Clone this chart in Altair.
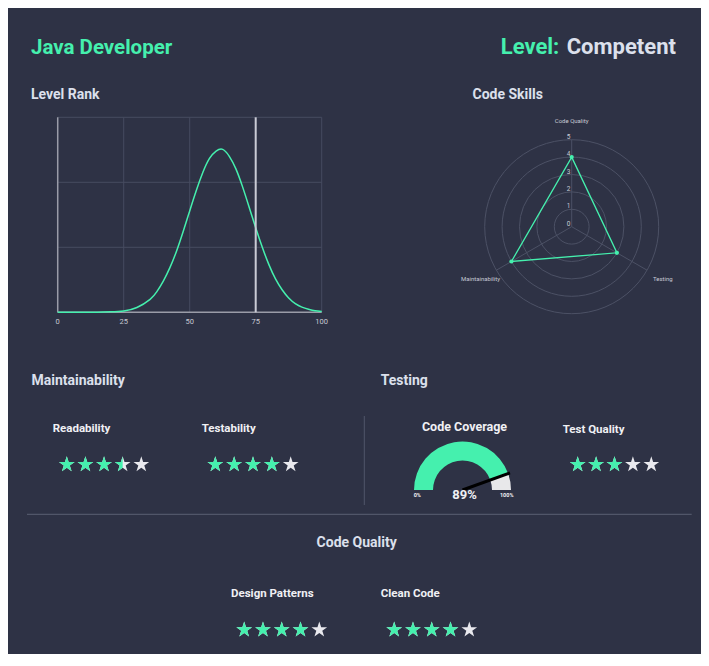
import math
import altair as alt
import pandas as pd

# ---------------- data ----------------
title_text = "Java Developer"
level_label = "Level:"
level_value = "Competent"

rank_x = [0, 5, 10, 15, 20, 25, 30, 35, 37.5, 40, 42.5, 45, 47.5, 50, 52.5, 55, 57.5, 60, 62.5,
          65, 67.5, 70, 72.5, 75, 77.5, 80, 82.5, 85, 87.5, 90, 92.5, 95, 97.5, 100]
rank_y = [0, 0, 0, 0.00001, 0.0001, 0.0003, 0.0011, 0.003, 0.0047, 0.0072, 0.0103, 0.0141, 0.0186,
          0.0234, 0.0281, 0.0323, 0.0355, 0.0372, 0.0376, 0.036, 0.0331, 0.029, 0.0243, 0.0195,
          0.015, 0.011, 0.0077, 0.0052, 0.0033, 0.002, 0.0012, 0.0007, 0.00035, 0.0002]
rank_marker = 75
rank_ticks = [0, 25, 50, 75, 100]
rank_grid_y = [0.015, 0.03, 0.045]
rank_xmax = 100
rank_ymax = 0.045

skill_names = ["Code Quality", "Testing", "Maintainability"]
skill_scores = [4, 3, 4]
skill_angles = [90, -30, 210]
skill_levels = [0, 1, 2, 3, 4, 5]

coverage_value = 89
coverage_labels = ["0%", "100%"]

rating_names = ["Readability", "Testability", "Test Quality", "Design Patterns", "Clean Code"]
rating_values = [3.5, 4, 3, 4, 4]
star_index = [1, 2, 3, 4, 5]

# ---------------- style ----------------
BG = "#2E3245"
GREEN = "#45F0AE"
LIGHT = "#DCE0EC"
WHITE = "#F0F0F4"
STAR_OFF = "#E9E9EE"
GRID = "#464B5F"
RING = "#4C5165"
AXIS = "#9A9CA8"
FONT = "Roboto"
OFF = 8


def P(v):
    return v - OFF


STAR = ("M0,-1 L0.2245,-0.309 L0.951,-0.309 L0.3633,0.118 L0.5878,0.809 L0,0.382 "
        "L-0.5878,0.809 L-0.3633,0.118 L-0.951,-0.309 L-0.2245,-0.309 Z")
HALF = "M0,-1 L-0.2245,-0.309 L-0.951,-0.309 L-0.3633,0.118 L-0.5878,0.809 L0,0.382 Z"

layers = []


def text(txt, x, y, size, color=LIGHT, align="left", baseline="alphabetic", weight="bold"):
    return alt.Chart(pd.DataFrame({"t": [txt]})).mark_text(
        align=align, baseline=baseline, font=FONT, fontSize=size, fontWeight=weight, color=color
    ).encode(x=alt.value(P(x)), y=alt.value(P(y)), text="t:N")


def hrule(x1, x2, y, color, w=1):
    return alt.Chart(pd.DataFrame({"a": [0]})).mark_rule(color=color, strokeWidth=w).encode(
        x=alt.value(P(x1)), x2=alt.value(P(x2)), y=alt.value(P(y)))


def vrule(x, y1, y2, color, w=1):
    return alt.Chart(pd.DataFrame({"a": [0]})).mark_rule(color=color, strokeWidth=w).encode(
        x=alt.value(P(x)), y=alt.value(P(y1)), y2=alt.value(P(y2)))


# ---------------- titles ----------------
layers.append(text(title_text, 31, 54, 20.5, GREEN))
layers.append(text(level_label, 559.3, 53.5, 22, GREEN, align="right"))
layers.append(text(level_value, 566.7, 53.5, 22, LIGHT))
layers.append(text("Level Rank", 31, 98.7, 14))
layers.append(text("Code Skills", 472.5, 99, 14))
layers.append(text("Maintainability", 31.5, 385, 14))
layers.append(text("Testing", 380.7, 385, 14))
layers.append(text("Code Quality", 356.7, 546.7, 14, align="center"))

# ---------------- level rank (line) ----------------
rxs = alt.Scale(domain=[0, rank_xmax], range=[P(57.7), P(321.7)])
rys = alt.Scale(domain=[0, rank_ymax], range=[P(312.3), P(117.3)])
tick_df = pd.DataFrame({"t": rank_ticks})
grid_df = pd.DataFrame({"g": rank_grid_y})
rank_df = pd.DataFrame({"x": rank_x, "y": rank_y})
frame_calc = dict(lo="0", ymax=str(rank_ymax), xmax=str(rank_xmax))

layers.append(alt.Chart(tick_df).transform_calculate(**frame_calc).mark_rule(color=GRID, strokeWidth=1).encode(
    x=alt.X("t:Q", scale=rxs, axis=None),
    y=alt.Y("lo:Q", scale=rys, axis=None), y2="ymax:Q"))
layers.append(alt.Chart(grid_df).transform_calculate(**frame_calc).mark_rule(color=GRID, strokeWidth=1).encode(
    y=alt.Y("g:Q", scale=rys, axis=None),
    x=alt.X("lo:Q", scale=rxs, axis=None), x2="xmax:Q"))
frame_df = pd.DataFrame({"a": [0]})
layers.append(alt.Chart(frame_df).transform_calculate(**frame_calc).mark_rule(color=AXIS, strokeWidth=1.5).encode(
    x=alt.X("lo:Q", scale=rxs, axis=None),
    y=alt.Y("lo:Q", scale=rys, axis=None), y2="ymax:Q"))
layers.append(alt.Chart(frame_df).transform_calculate(**frame_calc).mark_rule(color=AXIS, strokeWidth=1.5).encode(
    y=alt.Y("lo:Q", scale=rys, axis=None),
    x=alt.X("lo:Q", scale=rxs, axis=None), x2="xmax:Q"))
layers.append(alt.Chart(rank_df).mark_line(color=GREEN, strokeWidth=1.5, interpolate="natural").encode(
    x=alt.X("x:Q", scale=rxs, axis=None), y=alt.Y("y:Q", scale=rys, axis=None)))
layers.append(alt.Chart(pd.DataFrame({"m": [rank_marker]})).transform_calculate(**frame_calc).mark_rule(
    color="#C9CBD5", strokeWidth=2).encode(
    x=alt.X("m:Q", scale=rxs, axis=None),
    y=alt.Y("lo:Q", scale=rys, axis=None), y2="ymax:Q"))
layers.append(alt.Chart(tick_df).mark_text(font=FONT, fontSize=7.5, color="#C6C8D2", baseline="alphabetic").encode(
    x=alt.X("t:Q", scale=rxs, axis=None), y=alt.value(P(323.7)), text="t:Q"))

# ---------------- code skills (radar) ----------------
CX, CY, R = 571.7, 226.7, 87
rdx = alt.Scale(domain=[-5, 5], range=[P(CX - R), P(CX + R)])
rdy = alt.Scale(domain=[-5, 5], range=[P(CY + R), P(CY - R)])
lvl_df = pd.DataFrame({"lv": skill_levels})
skill_df = pd.DataFrame({"name": skill_names, "score": skill_scores, "ang": skill_angles,
                         "i": list(range(len(skill_names)))})

layers.append(alt.Chart(lvl_df).transform_filter("datum.lv > 0").transform_calculate(cx="0").mark_point(
    shape="circle", filled=False, color=RING, strokeWidth=1, opacity=1).encode(
    x=alt.X("cx:Q", scale=rdx, axis=None), y=alt.Y("cx:Q", scale=rdy, axis=None),
    size=alt.Size("lv:Q", scale=alt.Scale(type="pow", exponent=2, domain=[0, 5], range=[0, (2 * R) ** 2]),
                  legend=None)))
layers.append(alt.Chart(skill_df).transform_calculate(
    cx="0", ex="5*cos(datum.ang*PI/180)", ey="5*sin(datum.ang*PI/180)").mark_rule(color=RING, strokeWidth=1).encode(
    x=alt.X("cx:Q", scale=rdx, axis=None), y=alt.Y("cx:Q", scale=rdy, axis=None),
    x2="ex:Q", y2="ey:Q"))
layers.append(alt.Chart(lvl_df).transform_calculate(cx="0").mark_text(
    font=FONT, fontSize=6.5, color="#C8CAD4", dx=-3, dy=-3).encode(
    x=alt.X("cx:Q", scale=rdx, axis=None), y=alt.Y("lv:Q", scale=rdy, axis=None), text="lv:Q"))
poly = alt.Chart(skill_df).transform_calculate(
    px="datum.score*cos(datum.ang*PI/180)", py="datum.score*sin(datum.ang*PI/180)")
layers.append(poly.mark_line(color=GREEN, strokeWidth=1.3, interpolate="linear-closed").encode(
    x=alt.X("px:Q", scale=rdx, axis=None), y=alt.Y("py:Q", scale=rdy, axis=None), order="i:Q"))
layers.append(poly.mark_point(color=GREEN, filled=True, opacity=1, size=18).encode(
    x=alt.X("px:Q", scale=rdx, axis=None), y=alt.Y("py:Q", scale=rdy, axis=None)))
layers.append(alt.Chart(skill_df).transform_calculate(
    lx="6.05*cos(datum.ang*PI/180)", ly="6.05*sin(datum.ang*PI/180)").mark_text(
    font=FONT, fontSize=6, color="#C8CAD4", baseline="middle").encode(
    x=alt.X("lx:Q", scale=rdx, axis=None), y=alt.Y("ly:Q", scale=rdy, axis=None), text="name:N"))

# ---------------- code coverage gauge ----------------
GX, GY, GR, Gr = 462.5, 490, 48.5, 29.5
seg_df = pd.DataFrame({"start": [0, coverage_value], "end": [coverage_value, 100], "part": ["done", "rest"]})
layers.append(alt.Chart(seg_df).mark_arc(radius=GR, radius2=Gr).encode(
    theta=alt.Theta("start:Q", scale=alt.Scale(domain=[0, 100], range=[-math.pi / 2, math.pi / 2])),
    theta2="end:Q",
    color=alt.Color("part:N", scale=alt.Scale(domain=["done", "rest"], range=[GREEN, "#E8E8EA"]), legend=None),
    x=alt.value(P(GX)), y=alt.value(P(GY))))
ndx = alt.Scale(domain=[-1, 1], range=[P(GX - GR), P(GX + GR)])
ndy = alt.Scale(domain=[-1, 1], range=[P(GY + GR), P(GY - GR)])
layers.append(alt.Chart(pd.DataFrame({"v": [coverage_value]})).transform_calculate(
    ang="PI*(1-datum.v/100)", cx="0", tx="1.04*cos(datum.ang)", ty="1.04*sin(datum.ang)").mark_rule(
    color="black", strokeWidth=3).encode(
    x=alt.X("cx:Q", scale=ndx, axis=None), y=alt.Y("cx:Q", scale=ndy, axis=None), x2="tx:Q", y2="ty:Q"))
layers.append(text(f"{coverage_value}%", 464.5, 499.3, 13, WHITE, align="center"))
layers.append(text(coverage_labels[0], 417.3, 496.7, 5.5, WHITE, align="center"))
layers.append(text(coverage_labels[1], 506.7, 496.7, 5.5, WHITE, align="center"))
layers.append(text("Code Coverage", 464.5, 430.7, 12.5, WHITE, align="center"))

# ---------------- star ratings ----------------
star_layout = {
    "Readability": (66.8, 141.3, 463.7, 52.7, 431.7),
    "Testability": (215.3, 290.7, 463.7, 201.7, 431.7),
    "Test Quality": (577.7, 651.3, 463.7, 562.7, 433.3),
    "Design Patterns": (244.2, 319.3, 629.0, 231.0, 596.7),
    "Clean Code": (394.2, 469.3, 629.0, 380.7, 596.7),
}
for name, val in zip(rating_names, rating_values):
    x1, x5, sy, lx, ly = star_layout[name]
    layers.append(text(name, lx, ly, 11.5, WHITE))
    sdf = pd.DataFrame({"idx": star_index, "v": [val] * len(star_index)})
    sxs = alt.Scale(domain=[1, 5], range=[P(x1), P(x5)])
    layers.append(alt.Chart(sdf).mark_point(shape=STAR, filled=True, color=STAR_OFF, opacity=1, size=272).encode(
        x=alt.X("idx:Q", scale=sxs, axis=None), y=alt.value(P(sy + 0.8))))
    layers.append(alt.Chart(sdf).transform_calculate(
        state="datum.idx <= datum.v ? 'full' : (datum.idx - 0.5 <= datum.v ? 'half' : 'empty')"
    ).transform_filter("datum.state != 'empty'").mark_point(filled=True, color=GREEN, opacity=1, size=272).encode(
        x=alt.X("idx:Q", scale=sxs, axis=None), y=alt.value(P(sy + 0.8)),
        shape=alt.Shape("state:N", scale=alt.Scale(domain=["full", "half"], range=[STAR, HALF]), legend=None)))

# ---------------- dividers ----------------
layers.append(vrule(364.3, 416, 505, "#50556A"))
layers.append(hrule(27, 691.7, 514.3, "#5A5F72"))

chart = alt.layer(*layers).properties(
    width=693, height=646, background=BG, padding=0,
    autosize=alt.AutoSizeParams(type="none"),
).resolve_scale(
    x="independent", y="independent", theta="independent",
    color="independent", shape="independent", size="independent",
).configure_view(strokeWidth=0)

chart.save("out.html", embed_options={"renderer": "svg", "actions": False})
